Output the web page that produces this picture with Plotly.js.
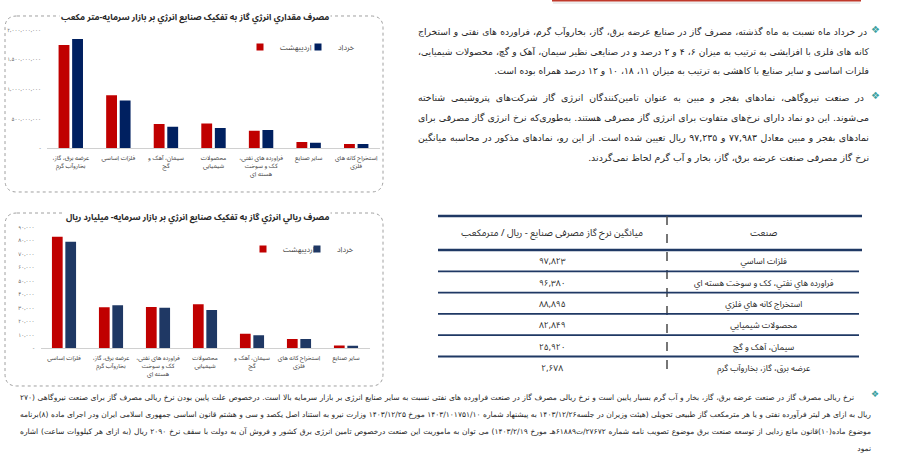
<!DOCTYPE html>
<html><head><meta charset="utf-8">
<script src="https://cdn.plot.ly/plotly-3.0.1.min.js"></script>
<style>
body{margin:0;background:#fff;width:900px;height:458px;overflow:hidden;position:relative;font-family:"DejaVu Sans",sans-serif;}
#fig{position:absolute;left:0;top:0;width:900px;height:458px;z-index:1;}
.para{position:absolute;direction:rtl;color:#262626;z-index:2;}
.line{text-align:justify;text-align-last:justify;white-space:normal;}
.line.last{text-align-last:start;}
.bullet{position:absolute;color:#3a9fa0;z-index:2;font-size:11px;}
#meas{position:absolute;visibility:hidden;white-space:nowrap;left:0;top:0;}
</style></head>
<body>
<div id="fig"></div>
<span id="meas"></span>
<script>
// ---------- data ----------
const seriesNames = ['اردیبهشت', 'خرداد'];

const title1 = 'مصرف مقداري انرژي گاز به تفکیک صنایع انرژي بر بازار سرمایه-متر مکعب';
const cats1 = ['عرضه برق، گاز،|بخاروآب گرم', 'فلزات اساسي', 'سیمان، آهک و|گچ', 'محصولات|شیمیایي', 'فراورده هاي نفتي،|کک و سوخت|هسته اي', 'سایر صنایع', 'استخراج کانه هاي|فلزي'];
const ord1 = [1745e6, 895e6, 410e6, 420e6, 297e6, 107e6, 73e6];
const khor1 = [1846e6, 810e6, 365e6, 343e6, 310e6, 94e6, 74e6];
const ticks1 = [0, 5e8, 1e9, 1.5e9, 2e9];

const title2 = 'مصرف ريالي انرژي گاز به تفکیک صنایع انرژي بر بازار سرمایه- میلیارد ريال';
const cats2 = ['فلزات اساسي', 'عرضه برق، گاز،|بخاروآب گرم', 'فراورده هاي نفتي،|کک و سوخت|هسته اي', 'محصولات|شیمیایي', 'سیمان، آهک و|گچ', 'استخراج کانه هاي|فلزي', 'سایر صنایع'];
const ord2 = [82650, 30340, 30580, 32560, 10850, 6910, 2100];
const khor2 = [78950, 31820, 30100, 28370, 9620, 6910, 1900];
const ticks2 = [0, 10000, 20000, 30000, 40000, 50000, 60000, 70000, 80000, 90000];

const tableHeader = ['میانگین نرخ گاز مصرفی صنایع - ریال / مترمکعب', 'صنعت'];
const tableIndustries = ['فلزات اساسي', 'فراورده هاي نفتي، کک و سوخت هسته اي', 'استخراج کانه هاي فلزي', 'محصولات شیمیایي', 'سیمان، آهک و گچ', 'عرضه برق، گاز، بخاروآب گرم'];
const tableRates = [97823, 96380, 88895, 82849, 25920, 2678];

const para1 = [
 'در خرداد ماه نسبت به ماه گذشته، مصرف گاز در صنایع عرضه برق، گاز، بخاروآب گرم، فراورده های نفتی و استخراج',
 'کانه های فلزی با افزایشی به ترتیب به میزان ۶، ۴ و ۲ درصد و در صنایعی  نظیر سیمان، آهک و گچ، محصولات شیمیایی،',
 'فلزات اساسی و سایر صنایع با کاهشی به ترتیب به میزان ۱۱، ۱۸، ۱۰ و ۱۲ درصد همراه بوده است.'
];
const para2 = [
 'در صنعت نیروگاهی، نمادهای بفجر و مبین به عنوان تامین‌کنندگان انرژی گاز شرکت‌های پتروشیمی شناخته',
 'می‌شوند. این دو نماد دارای نرخ‌های متفاوت برای انرژی گاز مصرفی هستند. به‌طوری‌که نرخ انرژی گاز مصرفی برای',
 'نمادهای بفجر و مبین معادل ۷۷,۹۸۳ و ۹۷,۲۳۵ ریال تعیین شده است. از این رو، نمادهای مذکور در محاسبه میانگین',
 'نرخ گاز مصرفی صنعت عرضه برق، گاز، بخار و آب گرم لحاظ نمی‌گردند.'
];
const para3 = [
 'نرخ ریالی مصرف گاز در صنعت عرضه برق، گاز، بخار و آب گرم بسیار پایین است و نرخ ریالی مصرف گاز در صنعت فراورده های نفتی نسبت به سایر صنایع انرژی بر بازار سرمایه بالا است. درخصوص علت پایین بودن نرخ ریالی مصرف گاز برای صنعت نیروگاهی (۲۷۰',
 'ریال به ازای هر لیتر فرآورده نفتی و یا هر مترمکعب گاز طبیعی تحویلی (هیئت وزیران در جلسه۱۴۰۳/۱۲/۲۶ به پیشنهاد شماره ۱۴۰۳/۱۰۱۷۵۱/۱۰ مورخ ۱۴۰۳/۱۲/۲۵ وزارت نیرو به استناد اصل یکصد و سی و هشتم قانون اساسی جمهوری اسلامی ایران ودر اجرای ماده (۸)برنامه',
 'موضوع ماده(۱۰)قانون مانع زدایی از توسعه صنعت برق موضوع تصویب نامه شماره ۲۷۶۷۲/ت۶۱۸۸۹هـ مورخ ۱۴۰۳/۲/۱۹) می توان به ماموریت این صنعت درخصوص تامین انرژی برق کشور و فروش آن به دولت  با سقف نرخ  ۲۰۹۰ ریال (به ازای هر کیلووات ساعت) اشاره',
 'نمود'
];

// ---------- helpers ----------
const W = 900, H = 458;
const px = v => v / W, py = v => 1 - v / H;
const RLM = '\u200F';
const FA = s => String(s).replace(/\d/g, d => '۰۱۲۳۴۵۶۷۸۹'[d]);
const fmt = n => n === 0 ? '-' : FA(n.toLocaleString('en-US'));
const lab = s => s.split('|').map(l => RLM + l + RLM).join('<br>');
const FONT = '"Noto Sans Arabic", "DejaVu Sans Condensed", "DejaVu Sans", sans-serif';
const RED = '#C00000', BLUE1 = '#002060', BLUE2 = '#1F3864';

function rr(x0, y0, x1, y1, r) {
  const X = v => (v / W).toFixed(5), Y = v => (1 - v / H).toFixed(5);
  return `M${X(x0 + r)},${Y(y0)} L${X(x1 - r)},${Y(y0)} Q${X(x1)},${Y(y0)} ${X(x1)},${Y(y0 + r)} L${X(x1)},${Y(y1 - r)} Q${X(x1)},${Y(y1)} ${X(x1 - r)},${Y(y1)} L${X(x0 + r)},${Y(y1)} Q${X(x0)},${Y(y1)} ${X(x0)},${Y(y1 - r)} L${X(x0)},${Y(y0 + r)} Q${X(x0)},${Y(y0)} ${X(x0 + r)},${Y(y0)} Z`;
}

// ---------- table geometry (pixels) ----------
const tTop = 216, tHead = 34, tRow = 21.3, tL = 438, tR = 862, tSplit = 438 + (862 - 438) * 229 / 424;
const tTextShift = 5;

// ---------- traces ----------
const c1 = cats1.map(lab), c2 = cats2.map(lab);
const traces = [
  {type: 'bar', x: c1, y: ord1, name: seriesNames[0], marker: {color: RED}, xaxis: 'x', yaxis: 'y', showlegend: false},
  {type: 'bar', x: c1, y: khor1, name: seriesNames[1], marker: {color: BLUE1}, xaxis: 'x', yaxis: 'y', showlegend: false},
  {type: 'bar', x: c2, y: ord2, name: seriesNames[0], marker: {color: RED}, xaxis: 'x2', yaxis: 'y2', showlegend: false},
  {type: 'bar', x: c2, y: khor2, name: seriesNames[1], marker: {color: BLUE2}, xaxis: 'x2', yaxis: 'y2', showlegend: false},
  {type: 'scatter', mode: 'markers', x: [null], y: [null], name: seriesNames[0], marker: {color: RED, symbol: 'square', size: 7}, xaxis: 'x', yaxis: 'y', legend: 'legend'},
  {type: 'scatter', mode: 'markers', x: [null], y: [null], name: seriesNames[1], marker: {color: BLUE1, symbol: 'square', size: 7}, xaxis: 'x', yaxis: 'y', legend: 'legend2'},
  {type: 'scatter', mode: 'markers', x: [null], y: [null], name: seriesNames[0], marker: {color: RED, symbol: 'square', size: 7}, xaxis: 'x2', yaxis: 'y2', legend: 'legend3'},
  {type: 'scatter', mode: 'markers', x: [null], y: [null], name: seriesNames[1], marker: {color: BLUE2, symbol: 'square', size: 7}, xaxis: 'x2', yaxis: 'y2', legend: 'legend4'},
  {type: 'table', domain: {x: [px(tL), px(tR)], y: [py(384), py(tTop + tTextShift)]}, columnwidth: [229, 195],
   header: {values: tableHeader.map(t => RLM + t + RLM), height: tHead - tTextShift, align: 'center', fill: {color: 'white'}, line: {width: 0, color: 'white'}, font: {size: 9.5, color: '#262626', family: FONT}},
   cells: {values: [tableRates.map(fmt), tableIndustries.map(t => RLM + t + RLM)], height: tRow, align: 'center', fill: {color: 'white'}, line: {width: 0, color: 'white'}, font: {size: 8.5, color: '#262626', family: FONT}}}
];

const xa = (d) => ({domain: d, type: 'category', showline: true, linecolor: '#d0d0d0', linewidth: 1, ticks: '', tickangle: 0, tickfont: {size: 6.2, color: '#404040', family: FONT}, fixedrange: true, showgrid: false, zeroline: false, ticklabelstandoff: 3});
const ya = (d, r, t) => ({domain: d, range: r, tickmode: 'array', tickvals: t, ticktext: t.map(fmt), showgrid: false, zeroline: false, showline: false, ticks: '', tickfont: {size: 5.2, color: '#595959', family: FONT}, ticklabelstandoff: 5, fixedrange: true});
const leg = (x, y) => ({x: px(x), y: py(y), xanchor: 'left', yanchor: 'middle', orientation: 'h', bgcolor: 'rgba(0,0,0,0)', font: {size: 7.6, color: '#404040', family: FONT}, itemclick: false, itemdoubleclick: false});

const shapes = [
  {type: 'path', path: rr(5, 16, 383, 192, 12), xref: 'paper', yref: 'paper', line: {color: '#a0a0a0', width: 1, dash: 'dot'}, layer: 'below'},
  {type: 'path', path: rr(5, 213, 383, 386, 12), xref: 'paper', yref: 'paper', line: {color: '#a0a0a0', width: 1, dash: 'dot'}, layer: 'below'},
  {type: 'rect', xref: 'paper', yref: 'paper', x0: px(553), x1: px(860), y0: py(4), y1: py(1.5), fillcolor: 'rgba(0,0,0,0.07)', line: {width: 0}},
  {type: 'rect', xref: 'paper', yref: 'paper', x0: px(552), x1: px(861), y0: py(1.6), y1: py(-4), fillcolor: '#C0392B', line: {width: 0}},
  {type: 'line', xref: 'paper', yref: 'paper', x0: px(tL), x1: px(tR), y0: py(tTop), y1: py(tTop), line: {color: '#1F3864', width: 2.5}},
  {type: 'line', xref: 'paper', yref: 'paper', x0: px(tL), x1: px(tR), y0: py(tTop + tHead), y1: py(tTop + tHead), line: {color: '#1F3864', width: 2.5}},
  {type: 'line', xref: 'paper', yref: 'paper', x0: px(tSplit), x1: px(tSplit), y0: py(tTop), y1: py(tTop + tHead + tRow * tableRates.length), line: {color: '#4a4a4a', width: 1.5, dash: 'dash'}}
];
for (let i = 1; i < tableRates.length; i++) {
  const y = tTop + tHead + tRow * i;
  shapes.push({type: 'line', xref: 'paper', yref: 'paper', x0: px(tL), x1: px(tR - 3), y0: py(y), y1: py(y), line: {color: '#1F3864', width: 1.8}});
}

const annotations = [
  {xref: 'paper', yref: 'paper', x: px(331), y: py(17), xanchor: 'right', yanchor: 'middle', text: '<b>' + RLM + title1 + RLM + '</b>', showarrow: false, font: {size: 8.6, color: '#262626', family: FONT}, bgcolor: 'white', borderpad: 1},
  {xref: 'paper', yref: 'paper', x: px(331), y: py(217), xanchor: 'right', yanchor: 'middle', text: '<b>' + RLM + title2 + RLM + '</b>', showarrow: false, font: {size: 8.5, color: '#262626', family: FONT}, bgcolor: 'white', borderpad: 1}
];

const layout = {
  width: W, height: H, margin: {l: 0, r: 0, t: 0, b: 0},
  paper_bgcolor: 'rgba(0,0,0,0)', plot_bgcolor: 'rgba(0,0,0,0)',
  barmode: 'group', bargap: 0.43, bargroupgap: 0.2,
  font: {family: FONT, color: '#404040'},
  xaxis: Object.assign(xa([px(47), px(380)]), {anchor: 'y'}),
  yaxis: Object.assign(ya([py(148.3), py(30)], [0, 2e9], ticks1), {anchor: 'x'}),
  xaxis2: Object.assign(xa([px(40.5), px(369.5)]), {anchor: 'y2'}),
  yaxis2: Object.assign(ya([py(348.3), py(226.7)], [0, 90000], ticks2), {anchor: 'x2'}),
  legend: leg(240, 47), legend2: leg(298, 47),
  legend3: leg(243, 249), legend4: leg(297, 249),
  shapes: shapes, annotations: annotations, hovermode: false
};

Plotly.newPlot('fig', traces, layout, {displayModeBar: false, staticPlot: true});

// ---------- text blocks ----------
function block(lines, left, right, top, lh, fs, firstIndent) {
  const d = document.createElement('div');
  d.className = 'para';
  d.style.left = left + 'px'; d.style.width = (right - left) + 'px'; d.style.top = top + 'px';
  d.style.lineHeight = lh + 'px';
  const meas = document.getElementById('meas');
  meas.style.fontSize = fs + 'px';
  let scale = 1;
  lines.forEach((t, i) => {
    meas.textContent = t;
    const avail = (right - left) - (i === 0 ? firstIndent : 0);
    scale = Math.min(scale, (avail - 2) / meas.offsetWidth);
  });
  d.style.fontSize = (fs * scale).toFixed(2) + 'px';
  lines.forEach((t, i) => {
    const l = document.createElement('div');
    l.className = 'line' + (i === lines.length - 1 ? ' last' : '');
    if (i === 0 && firstIndent) l.style.paddingRight = firstIndent + 'px';
    l.textContent = t;
    d.appendChild(l);
  });
  document.body.appendChild(d);
}
function bullet(x, y, fs) {
  const b = document.createElement('div');
  b.className = 'bullet'; b.textContent = '❖';
  b.style.left = x + 'px'; b.style.top = y + 'px'; b.style.fontSize = fs + 'px';
  document.body.appendChild(b);
}
block(para1, 418, 869, 22, 19.5, 11, 2);
block(para2, 418, 869, 88, 20, 11, 5);
block(para3, 20, 871, 388.5, 17.3, 9, 17);
bullet(871, 24, 10);
bullet(871, 90, 10);
bullet(871, 389, 9);
</script>
</body></html>
